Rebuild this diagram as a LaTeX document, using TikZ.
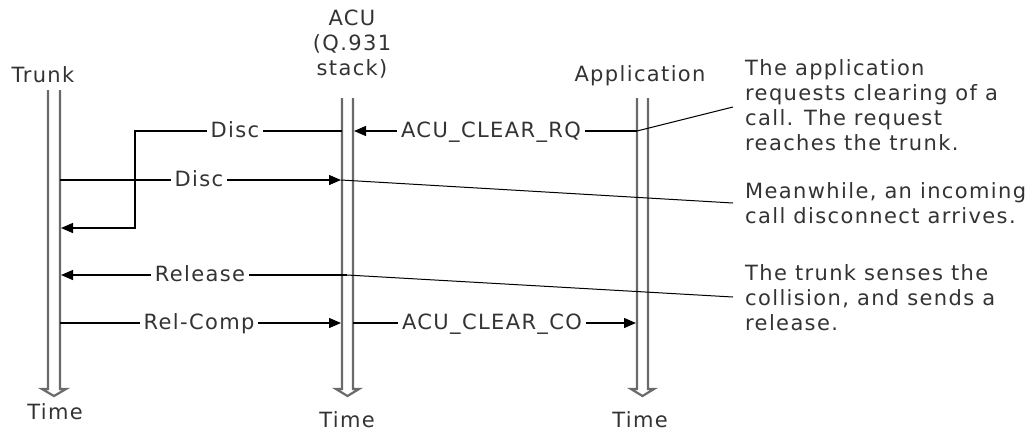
\documentclass[tikz,border=0pt]{standalone}
\usepackage{fontspec}
\setmainfont{DejaVu Sans}[LetterSpace=6.5]
\usetikzlibrary{arrows.meta}
\definecolor{txt}{HTML}{333333}
\definecolor{life}{HTML}{6a6a6a}
\begin{document}
\begin{tikzpicture}[x=1pt,y=-1pt,
  font=\fontsize{21}{25}\selectfont,
  every node/.style={text=txt},
  lifeline/.style={draw=life, line width=2.2pt, line join=miter},
  msg/.style={draw=black, line width=1.3pt},
  arr/.style={-{Triangle[length=12pt,width=10pt]}},
  lbl/.style={fill=white, inner xsep=4pt, inner ysep=1pt, anchor=base},
  hdr/.style={anchor=base, inner sep=0pt},
  note/.style={draw=black, line width=1pt},
  ann/.style={align=left, anchor=north west, inner sep=0pt}]
\useasboundingbox (0,0) rectangle (1033,432);

% lifelines (hollow arrows)
\draw[lifeline] (48,90) -- (48,389) -- (42,389) -- (54,396) -- (66,389) -- (60,389) -- (60,90);
\draw[lifeline] (342,98) -- (342,389) -- (336,389) -- (347.5,396) -- (359,389) -- (353,389) -- (353,98);
\draw[lifeline] (637,98) -- (637,389) -- (631,389) -- (642.5,396) -- (654,389) -- (648,389) -- (648,98);

% headers
\node[hdr] (trunkH) at (43,82) {Trunk};
\node[align=center, anchor=north, inner sep=0pt] (acuH) at (352,10) {ACU\\(Q.931\\stack)};
\node[hdr] (appH) at (640,81) {Application};
\node[hdr] (timeT) at (55,419) {Time};
\node[hdr] (timeA) at (347,427) {Time};
\node[hdr] (timeP) at (640,427) {Time};

% message end points
\coordinate (appRQ) at (637,131);
\coordinate (acuRQ) at (354,131);
\coordinate (acuD1) at (342,131);
\coordinate (bendA) at (135,131);
\coordinate (bendB) at (135,228);
\coordinate (trD1) at (61,228);
\coordinate (trD2) at (60,180);
\coordinate (acuD2) at (341,180);
\coordinate (acuRel) at (347,275);
\coordinate (trRel) at (61,275);
\coordinate (trRC) at (60,323);
\coordinate (acuRC) at (341,323);
\coordinate (acuCO) at (353,323);
\coordinate (appCO) at (636,323);

% messages
\draw[msg,arr] (appRQ) -- (acuRQ);
\draw[msg,arr] (acuD1) -- (bendA) -- (bendB) -- (trD1);
\draw[msg,arr] (trD2) -- (acuD2);
\draw[msg,arr] (acuRel) -- (trRel);
\draw[msg,arr] (trRC) -- (acuRC);
\draw[msg,arr] (acuCO) -- (appCO);

% message labels
\node[lbl] (lRQ) at (491,137) {ACU\_CLEAR\_RQ};
\node[lbl] (lD1) at (235,137) {Disc};
\node[lbl] (lD2) at (199,186) {Disc};
\node[lbl] (lRel) at (200,281) {Release};
\node[lbl] (lRC) at (199,329) {Rel-Comp};
\node[lbl] (lCO) at (492,329) {ACU\_CLEAR\_CO};

% annotations
\node[ann] (n1) at (745,59) {The application\\requests clearing of a\\call. The request\\reaches the trunk.};
\node[ann] (n2) at (745,182) {Meanwhile, an incoming\\call disconnect arrives.};
\node[ann] (n3) at (745,264) {The trunk senses the\\collision, and sends a\\release.};
\coordinate (n1p) at (733,107);
\coordinate (n2p) at (733,203);
\coordinate (n3p) at (733,297);
\draw[note] (appRQ) -- (n1p);
\draw[note] (acuD2) -- (n2p);
\draw[note] (acuRel) -- (n3p);
\end{tikzpicture}
\end{document}
